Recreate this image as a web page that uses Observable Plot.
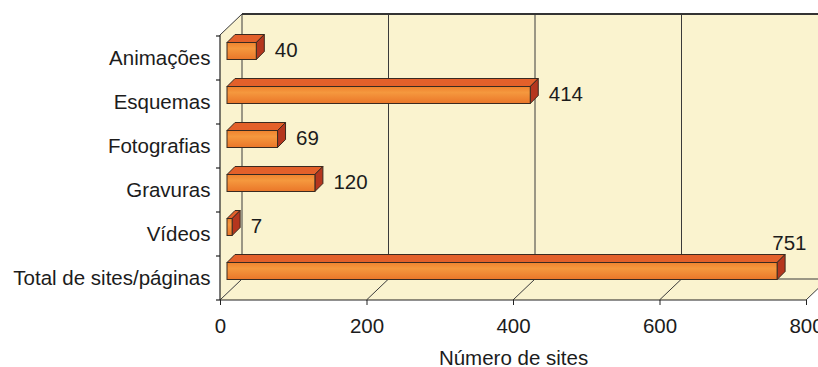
<!DOCTYPE html>
<html>
<head>
<meta charset="utf-8">
<script src="https://cdn.jsdelivr.net/npm/d3@7"></script>
<script src="https://cdn.jsdelivr.net/npm/@observablehq/plot@0.6"></script>
<style>
  html, body { margin: 0; padding: 0; background: #fff; }
  #chart svg { display: block; }
</style>
</head>
<body>
<div id="chart"></div>
<script>
// Number of sites per type of visual resource
const categories = ["Animações", "Esquemas", "Fotografias", "Gravuras", "Vídeos", "Total de sites/páginas"];
const siteCounts = [40, 414, 69, 120, 7, 751];
const xTicks = [0, 200, 400, 600, 800];
const xTitle = "Número de sites";

const rows = categories.map((category, i) => ({category, value: siteCounts[i]}));
const xMax = xTicks[xTicks.length - 1];

// 3D look: depth of the box (walls/floor) and of the bars, in pixels
const WALL = {dx: 22, dy: -21};
const BAR = {shift: 7, depth: 8, inset: 13.5};
const FONT = "'Liberation Sans', Arial, sans-serif";
const FS = 20.5;
const INK = "#1c1c1c";
const EDGE = "#3a2a20";
const PANEL = "#faf3cf";

// Walls, floor, grid and the top/side faces of the bars, positioned with the plot's scales
function box3d(index, scales, values, dims) {
  const x = scales.x, y = scales.y;
  const [d0, d1] = x.domain();
  const x0 = x(d0), x1 = x(d1);
  const yTop = dims.marginTop, yBot = dims.height - dims.marginBottom;
  const {dx, dy} = WALL;
  const bw = y.bandwidth ? y.bandwidth() : (yBot - yTop) / categories.length;
  const g = d3.create("svg:g");

  const grad = g.append("defs").append("linearGradient")
    .attr("id", "barFace").attr("x1", 0).attr("y1", 0).attr("x2", 0).attr("y2", 1);
  grad.append("stop").attr("offset", "0%").attr("stop-color", "#ef822e");
  grad.append("stop").attr("offset", "35%").attr("stop-color", "#f5983e");
  grad.append("stop").attr("offset", "100%").attr("stop-color", "#ea7629");

  const poly = (pts) => pts.map(p => p.join(",")).join(" ");

  // back wall, left wall and floor
  g.append("rect")
    .attr("x", x0 + dx).attr("y", yTop + dy)
    .attr("width", dims.width - (x0 + dx) + dx).attr("height", yBot - yTop)
    .attr("fill", PANEL);
  g.append("polygon")
    .attr("points", poly([[x0, yTop], [x0 + dx, yTop + dy], [x0 + dx, yBot + dy], [x0, yBot]]))
    .attr("fill", PANEL);
  g.append("polygon")
    .attr("points", poly([[x0, yBot], [x1, yBot], [x1 + dx, yBot + dy], [x0 + dx, yBot + dy]]))
    .attr("fill", PANEL);

  const line = (xa, ya, xb, yb, w = 1, c = "#3a3a3a") =>
    g.append("line").attr("x1", xa).attr("y1", ya).attr("x2", xb).attr("y2", yb)
      .attr("stroke", c).attr("stroke-width", w);

  // grid on the back wall and on the floor
  for (const t of xTicks) {
    line(x(t) + dx, yTop + dy, x(t) + dx, yBot + dy);
    line(x(t), yBot, x(t) + dx, yBot + dy);
  }
  line(x0 + dx, yBot + dy, x1 + dx, yBot + dy);
  line(x0 + dx, yTop + dy, dims.width + dx, yTop + dy, 2, "#333");
  line(x0, yTop, x0 + dx, yTop + dy);

  // front axes
  line(x0, yTop, x0, yBot, 1.2, "#222");
  line(x0, yBot, x1, yBot, 1.2, "#222");
  for (const c of categories) line(x0 - 4, y(c), x0, y(c), 1.2, "#222");
  line(x0 - 4, yBot, x0, yBot, 1.2, "#222");

  // bar top and side faces
  const {shift, depth, inset} = BAR;
  for (const r of rows) {
    const ft = y(r.category) + inset - shift;
    const fb = y(r.category) + bw - inset - shift;
    const xa = x(0) + shift, xb = x(r.value) + shift;
    g.append("polygon")
      .attr("points", poly([[xa, ft], [xb, ft], [xb + depth, ft - depth], [xa + depth, ft - depth]]))
      .attr("fill", "#e3602a").attr("stroke", EDGE).attr("stroke-width", 1).attr("stroke-linejoin", "round");
    g.append("polygon")
      .attr("points", poly([[xb, ft], [xb + depth, ft - depth], [xb + depth, fb - depth], [xb, fb]]))
      .attr("fill", "#b5361e").attr("stroke", EDGE).attr("stroke-width", 1).attr("stroke-linejoin", "round");
  }
  return g.node();
}

const fitsRight = d => d.value <= 0.9 * xMax;

const chart = Plot.plot({
  width: 818,
  height: 367,
  marginLeft: 220,
  marginRight: 12,
  marginTop: 35,
  marginBottom: 67,
  style: {fontFamily: FONT, fontSize: FS + "px", color: INK, background: "#fff"},
  x: {domain: [0, xMax]},
  y: {domain: categories, padding: 0},
  marks: [
    box3d,
    Plot.barX(rows, {
      x: "value", y: "category",
      dx: BAR.shift, dy: -BAR.shift,
      insetTop: BAR.inset, insetBottom: BAR.inset,
      fill: "url(#barFace)", stroke: EDGE, strokeWidth: 1
    }),
    Plot.text(rows.filter(fitsRight), {
      x: "value", y: "category", text: d => String(d.value),
      textAnchor: "start", dx: 25, dy: -8, fontSize: FS, fill: INK
    }),
    Plot.text(rows.filter(d => !fitsRight(d)), {
      y: "category", frameAnchor: "right", text: d => String(d.value),
      textAnchor: "end", dy: -35, fontSize: FS, fill: INK
    }),
    Plot.axisY({tickSize: 0, tickPadding: 10, label: null, fontSize: FS, fill: INK}),
    Plot.axisX({ticks: xTicks, tickSize: 5, tickPadding: 13, label: null, fontSize: FS, fill: INK, stroke: "#222"}),
    Plot.text([xTitle], {
      text: d => d, frameAnchor: "bottom", lineAnchor: "top", dy: 50, fontSize: FS, fill: INK
    })
  ]
});

document.getElementById("chart").appendChild(chart);
</script>
</body>
</html>
